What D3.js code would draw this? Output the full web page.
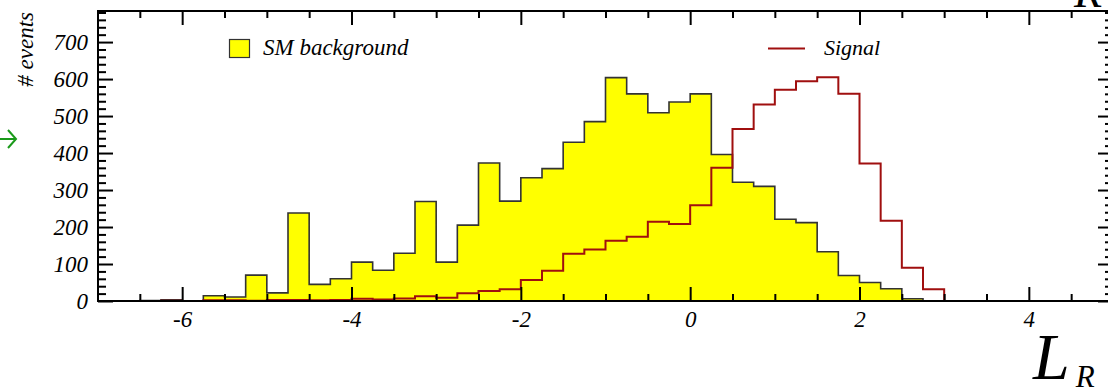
<!DOCTYPE html>
<html>
<head>
<meta charset="utf-8">
<script src="https://cdn.jsdelivr.net/npm/d3@7"></script>
<style>
  body { margin: 0; background: #fff; }
  svg { display: block; }
  text { font-family: "Liberation Serif", "DejaVu Serif", serif; font-style: italic; }
</style>
</head>
<body>
<div id="chart"></div>
<script>
var svg_width = 1108;
var svg_height = 388;

// bins: width 0.25, from -7 to 5
var binWidth = 0.25;
var binLow = d3.range(48).map(function(i) { return -7 + i * binWidth; });

var background = [0, 0, 1, 3, 0, 14, 11, 70, 22, 238, 45, 60,
                  105, 83, 129, 269, 105, 205, 373, 270, 333, 358, 429, 485,
                  604, 560, 509, 538, 560, 396, 321, 310, 221, 212, 133, 69,
                  50, 33, 6, 0, 0, 0, 0, 0, 0, 0, 0, 0];

var signal = [0, 0, 0, 1, 0, 2, 2, 1, 3, 3, 2, 3,
              6, 4, 7, 13, 9, 21, 27, 32, 57, 82, 128, 139,
              163, 174, 214, 208, 259, 360, 465, 531, 571, 594, 605, 560,
              372, 217, 90, 32, 0, 0, 0, 0, 0, 0, 0, 0];

var xMajor = [-6, -4, -2, 0, 2, 4];
var yMajor = [0, 100, 200, 300, 400, 500, 600, 700];

var svg = d3.select("#chart").append("svg")
    .attr("width", svg_width)
    .attr("height", svg_height);

var x = d3.scaleLinear().domain([-7, 5]).range([97.5, 1113.5]);
var y = d3.scaleLinear().domain([0, 784]).range([301, 11]);

function steps(values) {
    var pts = binLow.map(function(b, i) { return [b, values[i]]; });
    pts.push([binLow[binLow.length - 1] + binWidth, values[values.length - 1]]);
    return pts;
}

var area = d3.area()
    .curve(d3.curveStepAfter)
    .x(function(d) { return x(d[0]); })
    .y0(y(0))
    .y1(function(d) { return y(d[1]); });

var line = d3.line()
    .curve(d3.curveStepAfter)
    .x(function(d) { return x(d[0]); })
    .y(function(d) { return y(d[1]); });

// background histogram
svg.append("path")
    .datum(steps(background))
    .attr("d", area)
    .attr("fill", "#ffff00");

svg.append("path")
    .datum(steps(background))
    .attr("d", line)
    .attr("fill", "none")
    .attr("stroke", "#333")
    .attr("stroke-width", 1.6);

// signal histogram
svg.append("path")
    .datum(steps(signal))
    .attr("d", line)
    .attr("fill", "none")
    .attr("stroke", "#a00f0f")
    .attr("stroke-width", 2);

// axes with inward ticks
var xMinor = d3.range(-7, 5.01, 0.5).filter(function(v) { return xMajor.indexOf(v) < 0; });
var yMinor = d3.range(0, 784, 20).filter(function(v) { return v % 100 !== 0; });

function addAxis(axis, tf) {
    var g = svg.append("g").attr("transform", tf).call(axis);
    g.select(".domain").remove();
    g.selectAll("line").attr("stroke", "#000").attr("stroke-width", 2);
    g.selectAll("text").attr("fill", "#000").style("font-size", "23px").attr("font-family", null);
    return g;
}

// bottom
addAxis(d3.axisBottom(x).tickValues(xMajor).tickSizeInner(-14).tickSizeOuter(0).tickPadding(10)
    .tickFormat(function(d) { return d < 0 ? "-" + Math.abs(d) : d; }), "translate(0,301)");
addAxis(d3.axisBottom(x).tickValues(xMinor).tickSizeInner(-7).tickSizeOuter(0).tickFormat(""), "translate(0,301)");
// top
addAxis(d3.axisTop(x).tickValues(xMajor).tickSizeInner(-14).tickSizeOuter(0).tickFormat(""), "translate(0,11)");
addAxis(d3.axisTop(x).tickValues(xMinor).tickSizeInner(-7).tickSizeOuter(0).tickFormat(""), "translate(0,11)");
// left
addAxis(d3.axisLeft(y).tickValues(yMajor).tickSizeInner(-15).tickSizeOuter(0).tickPadding(10), "translate(98,0)");
addAxis(d3.axisLeft(y).tickValues(yMinor).tickSizeInner(-8).tickSizeOuter(0).tickFormat(""), "translate(98,0)");
// right
addAxis(d3.axisRight(y).tickValues(yMajor).tickSizeInner(-15).tickSizeOuter(0).tickFormat(""), "translate(1113,0)");
addAxis(d3.axisRight(y).tickValues(yMinor).tickSizeInner(-8).tickSizeOuter(0).tickFormat(""), "translate(1113,0)");

// frame
svg.append("rect")
    .attr("x", 98)
    .attr("y", 11)
    .attr("width", 1015)
    .attr("height", 290)
    .attr("fill", "none")
    .attr("stroke", "#000")
    .attr("stroke-width", 2);

// legend
svg.append("rect")
    .attr("x", 229.5)
    .attr("y", 39.5)
    .attr("width", 20)
    .attr("height", 18)
    .attr("fill", "#ffff00")
    .attr("stroke", "#333")
    .attr("stroke-width", 1.2);

svg.append("text")
    .text("SM background")
    .attr("x", 263)
    .attr("y", 55)
    .style("font-size", "23px");

svg.append("line")
    .attr("x1", 768).attr("x2", 805)
    .attr("y1", 48.5).attr("y2", 48.5)
    .attr("stroke", "#a00f0f")
    .attr("stroke-width", 2);

svg.append("text")
    .text("Signal")
    .attr("x", 824)
    .attr("y", 55)
    .style("font-size", "22px");

// y title
svg.append("text")
    .text("# events")
    .attr("transform", "translate(33,12) rotate(-90)")
    .attr("text-anchor", "end")
    .style("font-size", "23px");

// x title
var xt = svg.append("text")
    .attr("x", 1033)
    .attr("y", 379)
    .style("font-size", "66px");
xt.append("tspan").text("L");
xt.append("tspan").text("R").attr("dx", 6).attr("dy", 8).style("font-size", "31px");

// title piece cut off at top right
svg.append("text")
    .text("R")
    .attr("x", 1074)
    .attr("y", 7)
    .style("font-size", "46px");

// green arrow at left margin
svg.append("path")
    .attr("d", "M-4,139 L16,139 M8,130 L16,139 L8,148")
    .attr("fill", "none")
    .attr("stroke", "#1a9a1a")
    .attr("stroke-width", 2);
</script>
</body>
</html>
